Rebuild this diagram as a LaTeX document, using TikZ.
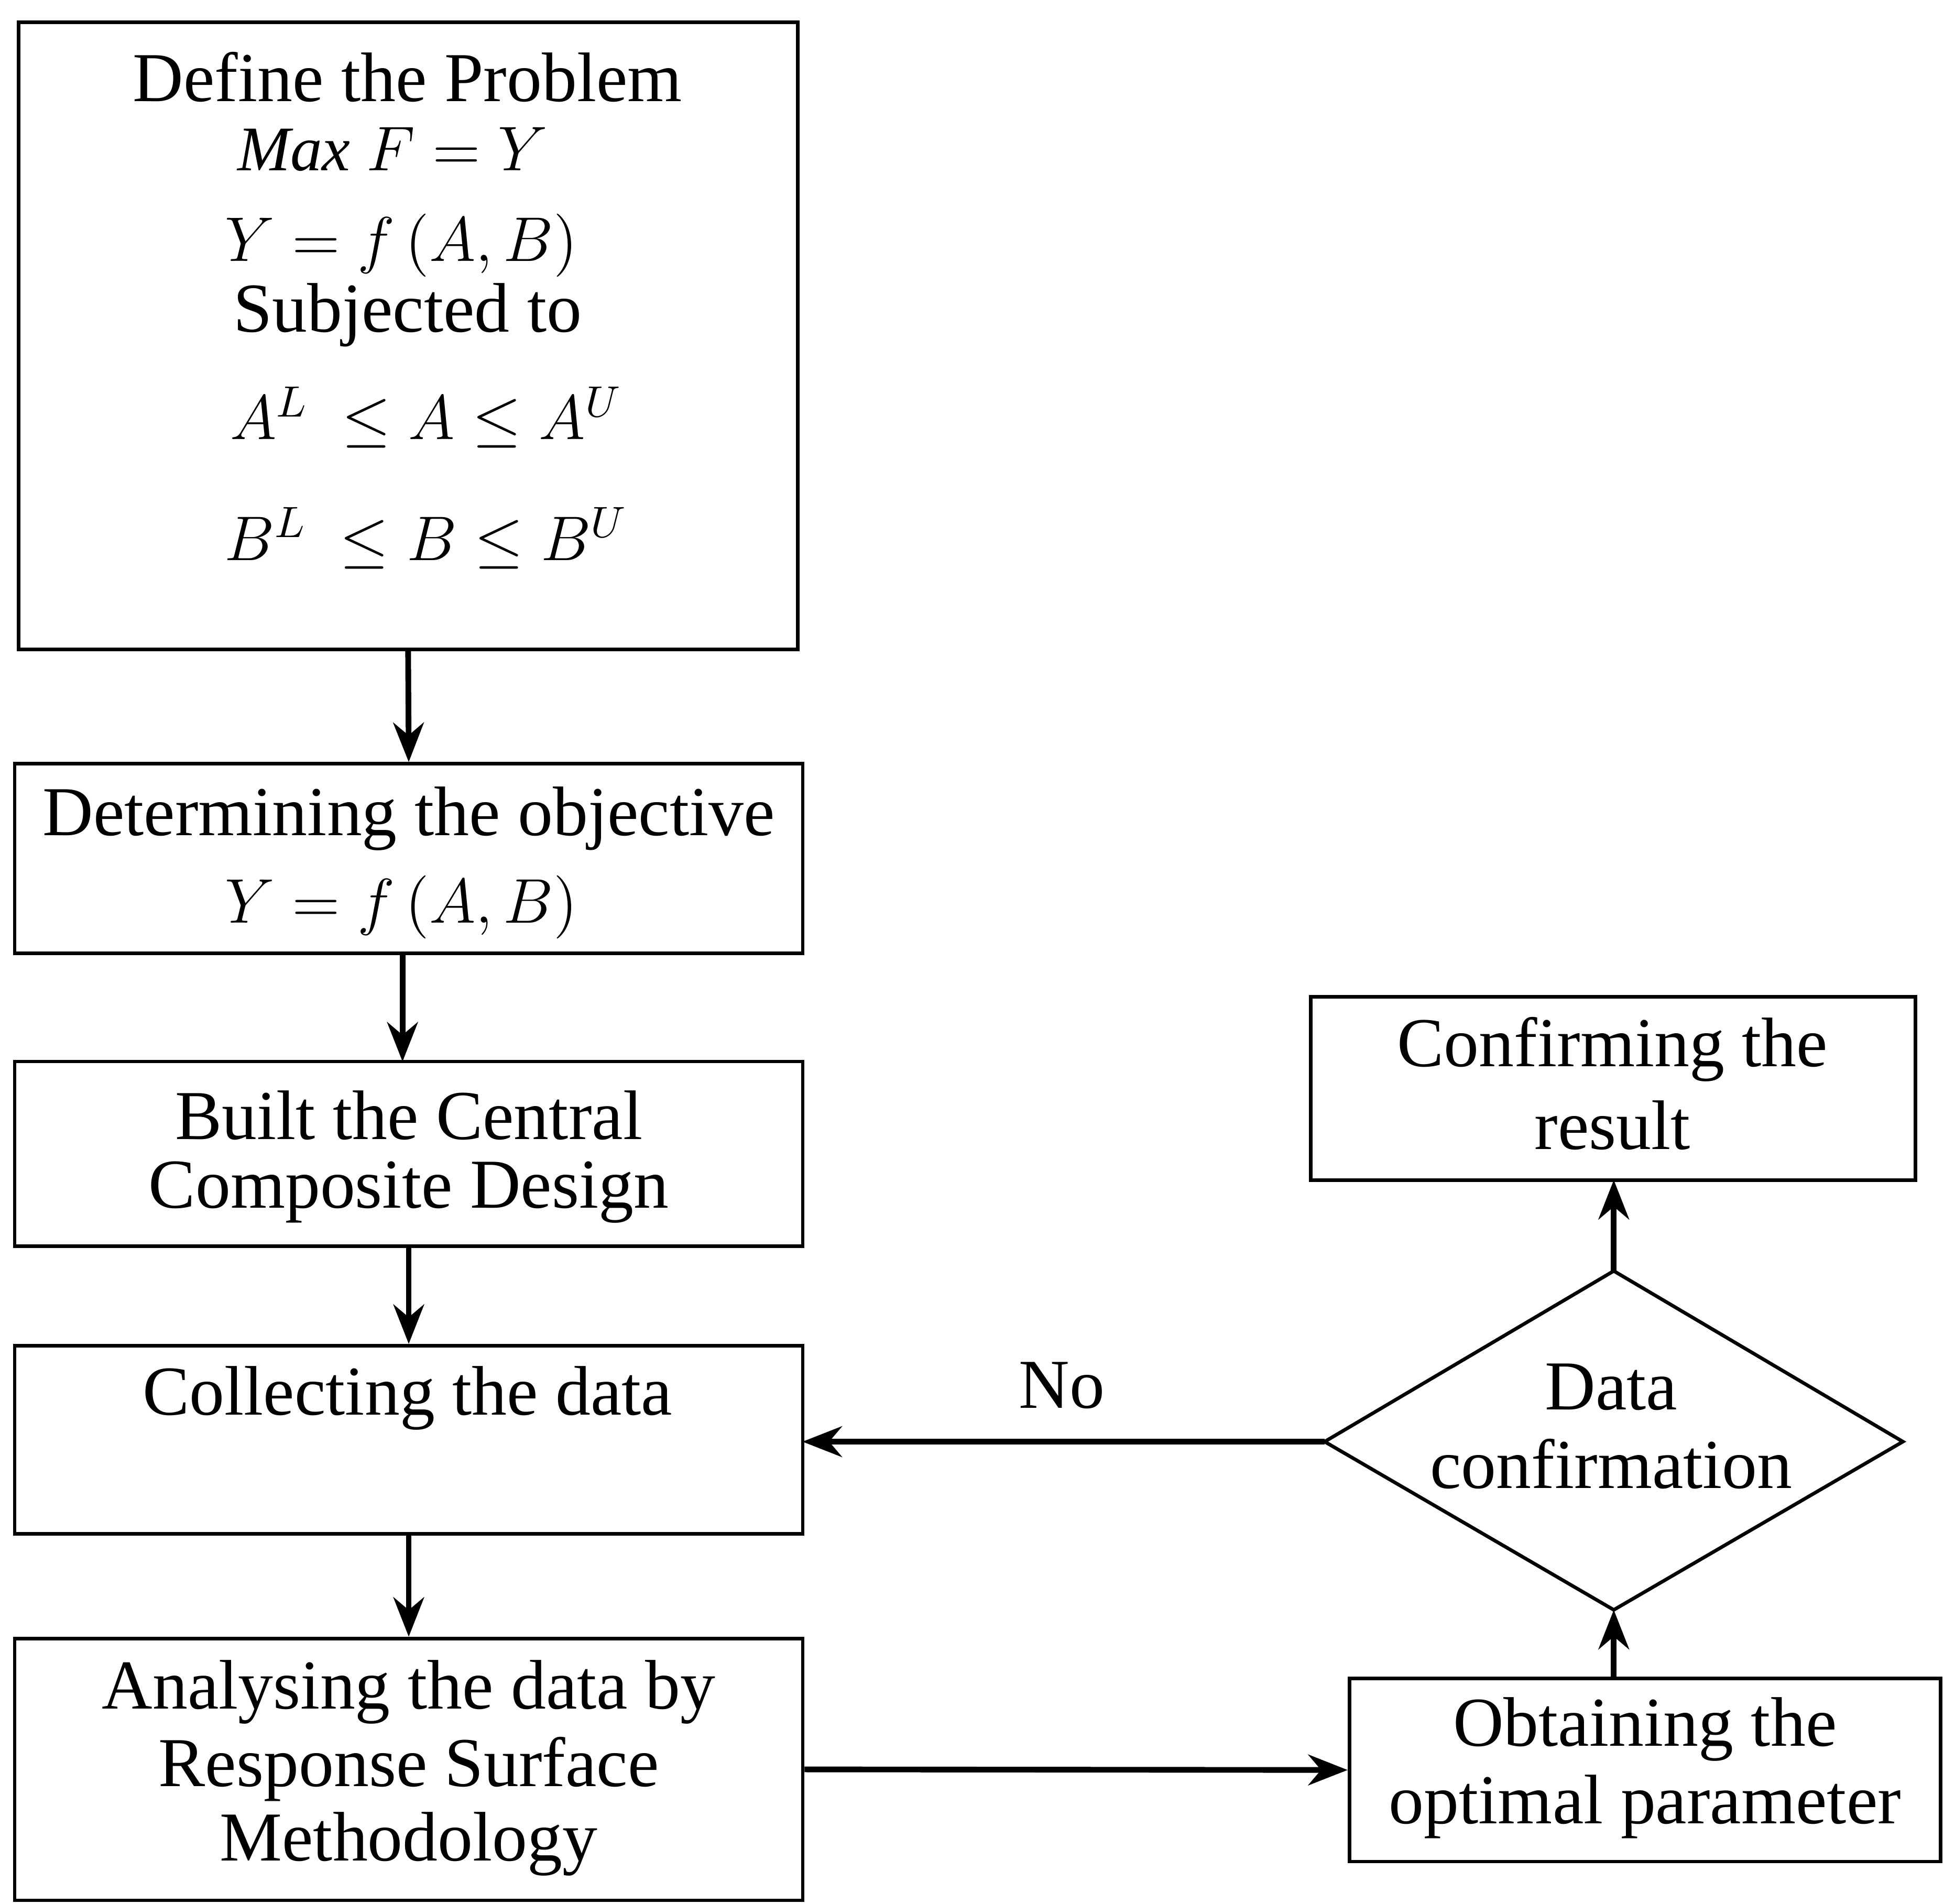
\documentclass[tikz,border=0pt]{standalone}
\usepackage{fontspec}
\setmainfont{Liberation Serif}
\usetikzlibrary{arrows.meta}
\begin{document}
\begin{tikzpicture}[x=0.01cm,y=-0.01cm,
  box/.style={draw,line width=0.8pt,inner sep=0pt},
  txt/.style={inner sep=0pt,font=\fontsize{16}{19}\selectfont,anchor=center},
  mtxt/.style={inner sep=0pt,font=\fontsize{14.5}{18}\selectfont,anchor=center},
  arr/.style={line width=1.3pt,-{Stealth[length=9pt,width=7pt]}}]
\useasboundingbox (0,0) rectangle (1560,1528);
\fill[white] (0,0) rectangle (1560,1528);
\node[box,minimum width=6.25cm,minimum height=5.03cm] (d1) at (327.5,269.5) {};
\node[txt] (t1a) at (327,62) {Define the Problem};
\node[mtxt] (t1b) at (315,120) {$\mathit{Max}\ F=Y$};
\node[mtxt] (t1c) at (322,197) {$Y=f\,(A,B)$};
\node[txt] (t1d) at (327,253) {Subjected to};
\node[mtxt] (t1e) at (342,335) {$A^{L}\ \leq A \leq A^{U}$};
\node[mtxt] (t1f) at (342,432) {$B^{L}\ \leq B \leq B^{U}$};
\node[box,minimum width=6.32cm,minimum height=1.52cm] (d2) at (328,689) {};
\node[txt] at (328,657) {Determining the objective};
\node[mtxt] at (322,728) {$Y=f\,(A,B)$};
\node[box,minimum width=6.32cm,minimum height=1.48cm] (d3) at (328,926) {};
\node[txt] at (328,895) {Built the Central};
\node[txt] at (328,957) {Composite Design};
\node[box,minimum width=6.32cm,minimum height=1.51cm] (d4) at (328,1155.5) {};
\node[txt] at (327,1122) {Collecting the data};
\node[box,minimum width=6.32cm,minimum height=2.10cm] (d5) at (328,1420) {};
\node[txt] at (328,1358) {Analysing the data by};
\node[txt] at (328,1420) {Response Surface};
\node[txt] at (328,1480) {Methodology};
\node[box,minimum width=4.74cm,minimum height=1.47cm] (d6) at (1320,1420.5) {};
\node[txt] at (1320,1388) {Obtaining the};
\node[txt] at (1320,1450) {optimal parameter};
\draw[line width=0.8pt] (1063,1157) -- (1295,1020) -- (1527,1157) -- (1295,1292) -- cycle;
\coordinate (dl) at (1063,1157);
\coordinate (dt) at (1295,1020);
\coordinate (db) at (1295,1292);
\node[txt] at (1293,1113) {Data};
\node[txt] at (1293,1175) {confirmation};
\node[box,minimum width=4.85cm,minimum height=1.47cm] (d8) at (1294.5,873.5) {};
\node[txt] at (1294,842) {Confirming the};
\node[txt] at (1294,903) {result};
\node[txt] (no) at (852,1112) {No};
\draw[arr] (d1.south) -- (d2.north);
\draw[arr] (323,765) -- (323,852);
\draw[arr] (d3.south) -- (d4.north);
\draw[arr] (d4.south) -- (d5.north);
\draw[arr] (d5.east) -- (d6.west);
\draw[arr] (1295,1347) -- (db);
\draw[arr] (dt) -- (1295,947);
\draw[arr] (dl) -- (644,1157);
\end{tikzpicture}
\end{document}
